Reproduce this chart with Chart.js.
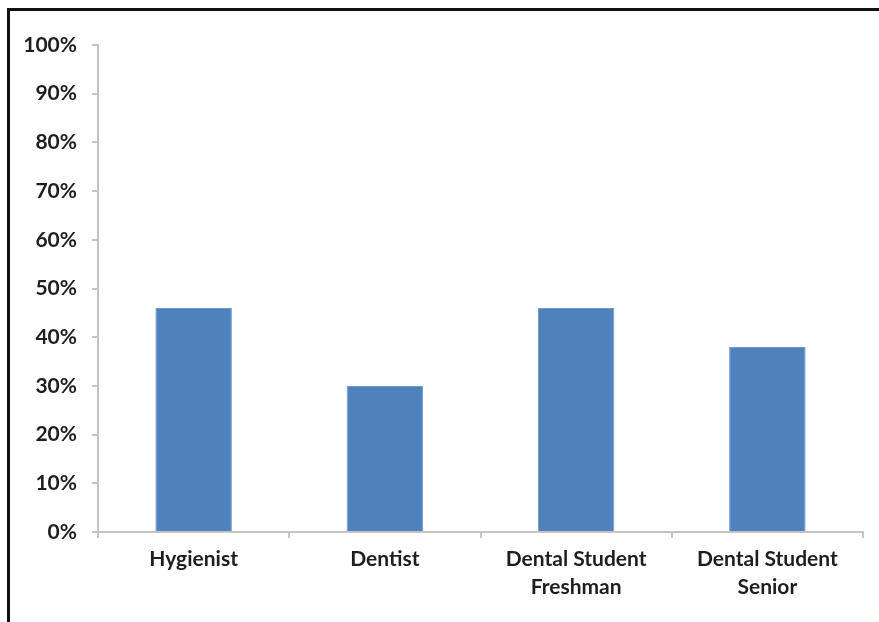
<!DOCTYPE html>
<html>
<head>
<meta charset="utf-8">
<script src="https://cdn.jsdelivr.net/npm/chart.js@4/dist/chart.umd.min.js"></script>
<style>
    html, body { margin: 0; padding: 0; background: #fff; }
    #wrap { position: relative; width: 879px; height: 622px; overflow: hidden; }
    #frame {
        position: absolute; left: 7px; top: 8px; right: -10px; bottom: -10px;
        border-left: 3px solid #111; border-top: 3px solid #111;
        pointer-events: none;
    }
    canvas { position: absolute; left: 0; top: 0; }
</style>
</head>
<body>
<div id="wrap">
    <canvas id="chartBars" width="879" height="622"></canvas>
    <div id="frame"></div>
</div>
<script>
// Data
const categories = ['Hygienist', 'Dentist', ['Dental Student', 'Freshman'], ['Dental Student', 'Senior']];
const shares = [46, 30, 46, 38];
const yTicks = [0, 10, 20, 30, 40, 50, 60, 70, 80, 90, 100];

const axisGray = '#c4c4c4';
const labelFont = { family: 'Lato', size: 21, weight: 'bold', lineHeight: 1.3 };

const ctx = document.getElementById('chartBars').getContext('2d');
const barChart = new Chart(ctx, {
    type: 'bar',
    data: {
        labels: categories,
        datasets: [{
            data: shares,
            backgroundColor: '#4f81bd',
            borderColor: '#6f97c9',
            borderWidth: 1,
            categoryPercentage: 1,
            barPercentage: 0.4
        }]
    },
    options: {
        responsive: false,
        animation: false,
        layout: { padding: { left: 0, right: 16, top: 45, bottom: 0 } },
        plugins: { legend: { display: false }, tooltip: { enabled: false } },
        scales: {
            x: {
                offset: true,
                grid: { offset: true, drawOnChartArea: false, color: axisGray, lineWidth: 2, tickLength: 6 },
                border: { color: axisGray, width: 2 },
                ticks: { color: '#1e1e1e', font: labelFont, padding: 8, maxRotation: 0 },
                afterFit: (scale) => { scale.height = 90; }
            },
            y: {
                min: 0,
                max: 100,
                afterBuildTicks: (scale) => { scale.ticks = yTicks.map(v => ({ value: v })); },
                grid: { drawOnChartArea: false, color: axisGray, lineWidth: 2, tickLength: 6 },
                border: { color: axisGray, width: 2 },
                ticks: { color: '#1e1e1e', font: labelFont, padding: 15, callback: (v) => v + '%' },
                afterFit: (scale) => { scale.width = 98; }
            }
        }
    }
});
</script>
</body>
</html>
